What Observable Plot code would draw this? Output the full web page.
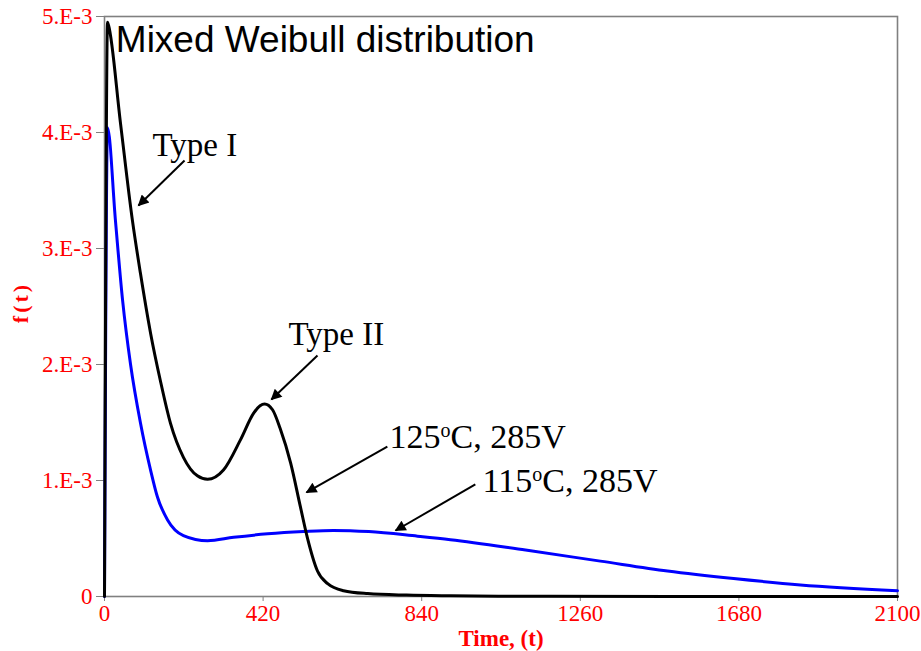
<!DOCTYPE html>
<html>
<head>
<meta charset="utf-8">
<script src="https://cdn.jsdelivr.net/npm/d3@7"></script>
<script src="https://cdn.jsdelivr.net/npm/@observablehq/plot@0.6"></script>
<style>
  body { margin: 0; background: #fff; }
</style>
</head>
<body>
<div id="chart"></div>
<script>
// Mixed Weibull density, 125°C / 285V (black), in units of 1e-3
const time125 = [0, 8, 11, 42, 74, 95, 122, 148, 175, 209, 246, 273, 315, 360, 395, 412, 424, 445, 465, 493, 519, 537, 564, 591, 633, 697, 800, 916, 1100, 1500, 2100];
const dens125 = [0, 4.95, 4.92, 4.09, 3.24, 2.79, 2.27, 1.86, 1.49, 1.20, 1.04, 1.01, 1.09, 1.35, 1.58, 1.645, 1.66, 1.61, 1.45, 1.15, 0.77, 0.51, 0.22, 0.11, 0.05, 0.025, 0.012, 0.006, 0.002, 0, 0];

// Mixed Weibull density, 115°C / 285V (blue), in units of 1e-3
const time115 = [0, 8, 29, 48, 69, 95, 122, 140, 167, 209, 273, 342, 432, 527, 606, 700, 829, 916, 1115, 1313, 1491, 1666, 1843, 2100];
const dens115 = [0, 4.04, 3.24, 2.55, 2.00, 1.50, 1.09, 0.86, 0.66, 0.525, 0.48, 0.51, 0.54, 0.56, 0.57, 0.56, 0.52, 0.49, 0.40, 0.305, 0.22, 0.155, 0.10, 0.05];

// Axis ticks
const xTicks = [0, 420, 840, 1260, 1680, 2100];
const yTicks = [0, 0.001, 0.002, 0.003, 0.004, 0.005];
const yTickLabels = ["0", "1.E-3", "2.E-3", "3.E-3", "4.E-3", "5.E-3"];

// Callout labels and their arrows (time, density)
const noteText = ["Type I", "Type II", "125oC, 285V", "115oC, 285V"];
const noteSize = [33, 33, 34, 34];
const noteT = [127, 487, 755, 1001];
const noteF = [0.00380, 0.002172, 0.001276, 0.000897];
const arrowT1 = [212, 564, 749, 982];
const arrowF1 = [0.003759, 0.002078, 0.001293, 0.000966];
const arrowT2 = [90, 442, 535, 771];
const arrowF2 = [0.003371, 0.001698, 0.000897, 0.000569];

const series125 = time125.map((t, i) => ({t, f: dens125[i] / 1000}));
const series115 = time115.map((t, i) => ({t, f: dens115[i] / 1000}));
const notes = noteText.map((text, i) => ({text, t: noteT[i], f: noteF[i], size: noteSize[i]}));
const arrows = noteText.map((_, i) => ({t1: arrowT1[i], f1: arrowF1[i], t2: arrowT2[i], f2: arrowF2[i]}));

const chart = Plot.plot({
  width: 921,
  height: 651,
  marginLeft: 104,
  marginRight: 24,
  marginTop: 16,
  marginBottom: 55,
  style: {fontFamily: "'Liberation Serif', 'Times New Roman', serif", background: "#fff"},
  x: {domain: [0, 2100]},
  y: {domain: [0, 0.005]},
  marks: [
    Plot.frame({stroke: "#808080", strokeWidth: 1.6}),
    Plot.axisX({ticks: xTicks, tickFormat: d => String(d), tickSize: 5, tickPadding: 3,
      fontSize: 23, fill: "#ff0000", stroke: "#808080", label: null}),
    Plot.axisY({ticks: yTicks, tickFormat: d => yTickLabels[yTicks.indexOf(d)], tickSize: 8, tickPadding: 4,
      fontSize: 23, fill: "#ff0000", stroke: "#808080", label: null}),
    Plot.line(series115, {x: "t", y: "f", stroke: "#0000ff", strokeWidth: 3, curve: "monotone-x"}),
    Plot.line(series125, {x: "t", y: "f", stroke: "#000000", strokeWidth: 3, curve: "monotone-x"}),
    Plot.link(arrows, {x1: "t1", y1: "f1", x2: "t2", y2: "f2", stroke: "#000", strokeWidth: 2}),
    Plot.text(notes, {x: "t", y: "f", text: "text", fontSize: "size", textAnchor: "start",
      lineAnchor: "bottom", fill: "#000"}),
    Plot.text(["Mixed Weibull distribution"], {x: 30, y: 0.00469, text: d => d, textAnchor: "start",
      lineAnchor: "bottom", fontSize: 37, fill: "#000", fontFamily: "'Liberation Sans', Arial, sans-serif"}),
    Plot.text(["Time, (t)"], {frameAnchor: "bottom", dy: 49, text: d => d, textAnchor: "middle",
      lineAnchor: "bottom", fontSize: 23, fontWeight: "bold", fill: "#ff0000"}),
    Plot.text(["f(t)"], {frameAnchor: "left", dx: -84, dy: -4, rotate: -90, text: d => d,
      textAnchor: "middle", lineAnchor: "middle", fontSize: 22, fontWeight: "bold", fill: "#ff0000"})
  ]
});

// Filled arrowheads for the callout links
const svg = d3.select(chart);
svg.append("defs").append("marker")
  .attr("id", "callout-head")
  .attr("viewBox", "0 0 10 10")
  .attr("refX", 9).attr("refY", 5)
  .attr("markerWidth", 15).attr("markerHeight", 11)
  .attr("markerUnits", "userSpaceOnUse")
  .attr("orient", "auto")
  .append("path").attr("d", "M0,0L10,5L0,10Z").attr("fill", "#000");
svg.select('g[aria-label="link"]').selectAll("path").attr("marker-end", "url(#callout-head)");

// Superscript degree "o" in the condition labels
svg.selectAll("text").each(function () {
  const m = /^(\d+)o(C.*)$/.exec(this.textContent);
  if (!m) return;
  const t = d3.select(this).text(null);
  t.append("tspan").text(m[1]);
  t.append("tspan").attr("font-size", "20px").attr("dy", -11).text("o");
  t.append("tspan").attr("dy", 11).text(m[2]);
});
svg.selectAll("text").filter(function () { return this.textContent === "f(t)"; })
  .attr("letter-spacing", "3px");

document.getElementById("chart").appendChild(chart);
</script>
</body>
</html>
